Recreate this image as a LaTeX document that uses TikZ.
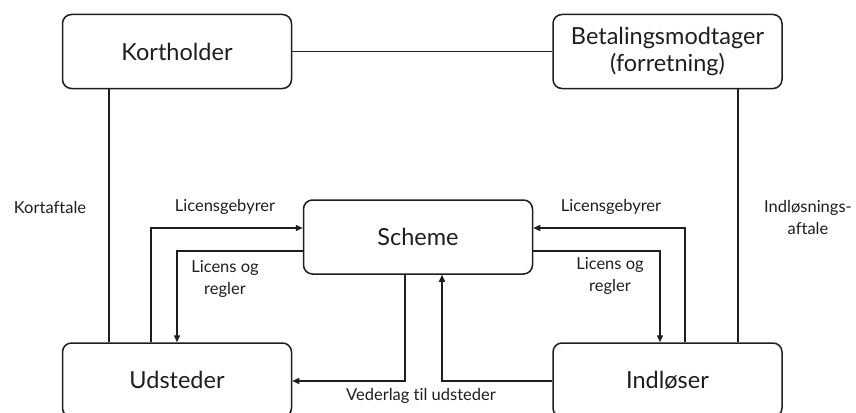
\documentclass[tikz,border=0pt]{standalone}
\usepackage{fontspec}
\setmainfont{Lato}[Ligatures=NoCommon]
\usetikzlibrary{arrows.meta}
\definecolor{ink}{HTML}{1E1E1E}
\begin{document}
\begin{tikzpicture}[x=1pt,y=-1pt,
  box/.style={draw=ink, text=ink, line width=1.5pt, rounded corners=9pt, minimum width=229pt, minimum height=74pt, align=center, font=\fontsize{23.5}{27}\selectfont, inner sep=0pt},
  conn/.style={draw=ink, line width=1.4pt},
  arr/.style={conn, -{Triangle[length=7pt,width=6pt]}},
  lbl/.style={text=ink, font=\fontsize{16.5}{22}\selectfont, align=center, inner sep=0pt}]
\useasboundingbox (0,0) rectangle (856,412);
\node[box] (kort) at (177,51.5) {Kortholder};
\node[box] (betal) at (667.5,51.5) {Betalingsmodtager\\(forretning)};
\node[box] (scheme) at (418,237) {Scheme};
\node[box] (udst) at (177,380) {Udsteder};
\node[box] (indl) at (667.5,380) {Indløser};
\coordinate (xa) at (109,0);
\coordinate (xb) at (151,0);
\coordinate (xc) at (177,0);
\coordinate (xd) at (405,0);
\coordinate (xe) at (442,0);
\coordinate (xf) at (660,0);
\coordinate (xg) at (685,0);
\coordinate (xh) at (738,0);
\coordinate (ya) at (0,228);
\coordinate (yb) at (0,251);
\coordinate (yc) at (0,381);
\draw[conn] (kort.east) -- (betal.west);
\draw[conn] (kort.south -| xa) -- (udst.north -| xa);
\draw[conn] (betal.south -| xh) -- (indl.north -| xh);
\draw[arr] (udst.north -| xb) |- (scheme.west |- ya);
\draw[arr] (scheme.west |- yb) -| (udst.north -| xc);
\draw[arr] (scheme.south -| xd) |- (udst.east |- yc);
\draw[arr] (indl.west |- yc) -| (scheme.south -| xe);
\draw[arr] (indl.north -| xg) |- (scheme.east |- ya);
\draw[arr] (scheme.east |- yb) -| (indl.north -| xf);
\node[lbl] (l1) at (50,207) {Kortaftale};
\node[lbl] (l2) at (808,217.5) {Indløsnings-\\aftale};
\node[lbl] (l3) at (225,207) {Licensgebyrer};
\node[lbl] (l4) at (225,279) {Licens og\\regler};
\node[lbl] (l5) at (611,207) {Licensgebyrer};
\node[lbl] (l6) at (610,276) {Licens og\\regler};
\node[lbl] (l7) at (421,396) {Vederlag til udsteder};
\end{tikzpicture}
\end{document}
